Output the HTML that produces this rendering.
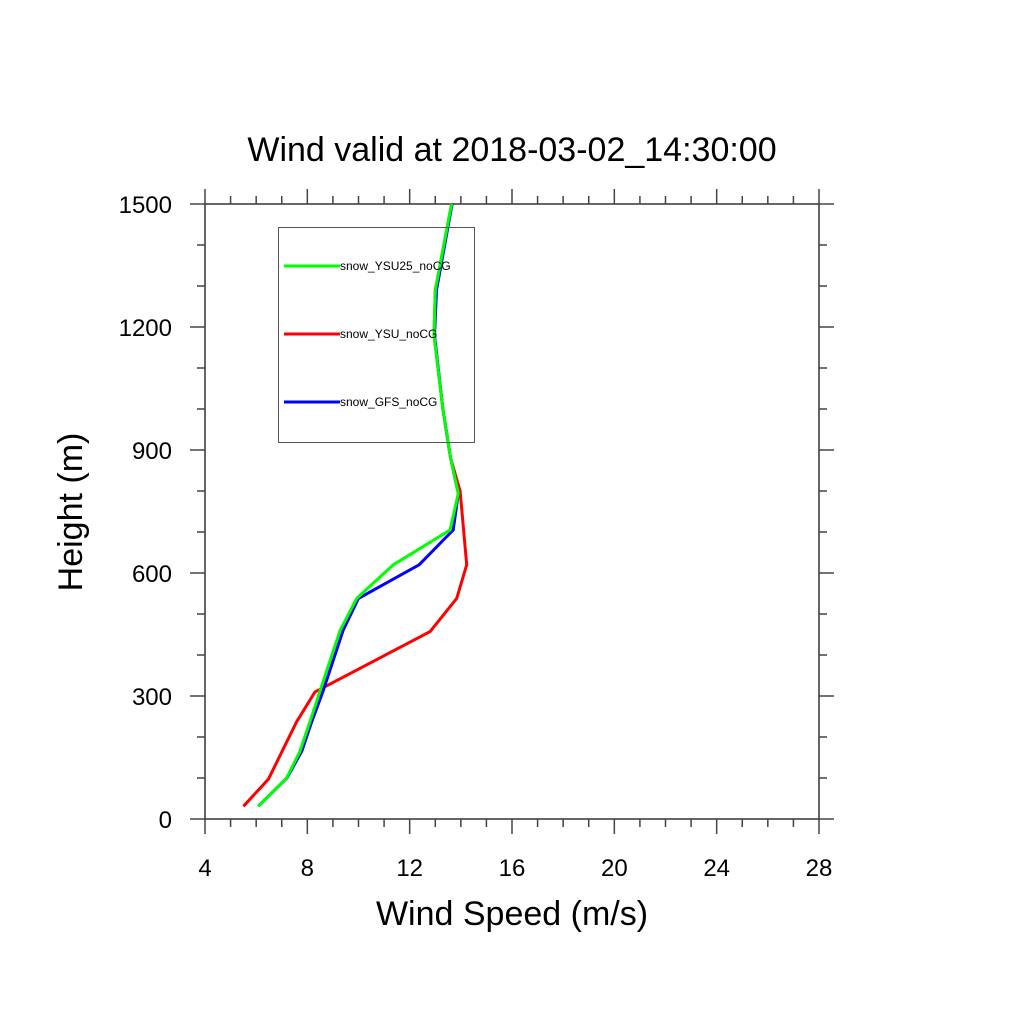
<!DOCTYPE html>
<html><head><meta charset="utf-8"><style>
body{margin:0;background:#fff;}
svg{display:block;font-family:"Liberation Sans",sans-serif;}
</style></head><body>
<svg id="chart" width="1024" height="1024" viewBox="0 0 1024 1024">
<text x="512" y="161" font-size="34" text-anchor="middle">Wind valid at 2018-03-02_14:30:00</text>
<text x="512" y="925" font-size="34" text-anchor="middle">Wind Speed (m/s)</text>
<text transform="translate(82,512) rotate(-90)" font-size="34" text-anchor="middle">Height (m)</text>
<g id="axes"></g>
<g id="series"></g>
<g>
<rect x="278.5" y="227.5" width="196" height="215" fill="none" stroke="#555" stroke-width="1"/>
<line x1="284" y1="266" x2="340" y2="266" stroke="#00ff00" stroke-width="3"/>
<text x="340" y="270" font-size="12">snow_YSU25_noCG</text>
<line x1="284" y1="334" x2="340" y2="334" stroke="#ff0000" stroke-width="3"/>
<text x="340" y="338" font-size="12">snow_YSU_noCG</text>
<line x1="284" y1="402" x2="340" y2="402" stroke="#0000ff" stroke-width="3"/>
<text x="340" y="406" font-size="12">snow_GFS_noCG</text>
</g>
</svg>
<script>
const xTicks=[4,8,12,16,20,24,28];
const yTicks=[0,300,600,900,1200,1500];
const heights=[31,100,165,237,313,460,538,620,705,794,880,1000,1180,1290,1500];
const ysu25=[6.08,7.19,7.71,8.1,8.5,9.28,9.93,11.36,13.58,13.9,13.6,13.3,12.95,13.0,13.64];
const gfs=[6.08,7.2,7.78,8.17,8.62,9.4,10.0,12.37,13.7,13.9,13.6,13.3,12.97,13.05,13.66];
const ysuH=[31,97,237,310,457,538,620,800,880,1000,1180,1290,1500];
const ysu=[5.5,6.48,7.58,8.3,12.8,13.84,14.23,13.97,13.6,13.3,12.95,13.0,13.64];
const X0=205,X1=819,Y0=819,Y1=204;
const sx=v=>X0+(v-4)/24*(X1-X0);
const sy=v=>Y0-v/1500*(Y0-Y1);
const NS="http://www.w3.org/2000/svg";
const axes=document.getElementById('axes');
function mk(t,a,p){const e=document.createElementNS(NS,t);for(const k in a)e.setAttribute(k,a[k]);p.appendChild(e);return e;}
const frame=mk('rect',{x:X0,y:Y1,width:X1-X0,height:Y0-Y1,fill:'none',stroke:'#333','stroke-width':1.5},axes);


const tk={stroke:'#444','stroke-width':1.5};
for(let v=4;v<=28;v++){
  const x=sx(v),L=(v%4===0)?15:8;
  const t1=mk('line',Object.assign({x1:x,y1:Y0,x2:x,y2:Y0+L},tk),axes);
  
  
  const t2=mk('line',Object.assign({x1:x,y1:Y1,x2:x,y2:Y1-L},tk),axes);
  
  
}
for(let v=0;v<=1500;v+=100){
  const y=sy(v),L=(v%300===0)?15:8;
  const t1=mk('line',Object.assign({x1:X0,y1:y,x2:X0-L,y2:y},tk),axes);
  
  
  const t2=mk('line',Object.assign({x1:X1,y1:y,x2:X1+L,y2:y},tk),axes);
  
  
}
xTicks.forEach(v=>{
  const t=mk('text',{x:sx(v),y:876,'font-size':24,'text-anchor':'middle'},axes);
  t.textContent=v;
  
  
});
yTicks.forEach(v=>{
  const t=mk('text',{x:172,y:sy(v)+9,'font-size':24,'text-anchor':'end'},axes);
  t.textContent=v;
  
  
});
const ser=document.getElementById('series');
function line(xs,hs,col,name){
  const pts=xs.map((v,i)=>sx(v).toFixed(1)+','+sy(hs[i]).toFixed(1)).join(' ');
  const p=mk('polyline',{points:pts,fill:'none',stroke:col,'stroke-width':3,'stroke-linejoin':'round'},ser);
  
  
}
line(ysu,ysuH,'#ff0000','line-snow-ysu-nocg');
line(gfs,heights,'#0000ff','line-snow-gfs-nocg');
line(ysu25,heights,'#00ff00','line-snow-ysu25-nocg');
</script>
</body></html>
